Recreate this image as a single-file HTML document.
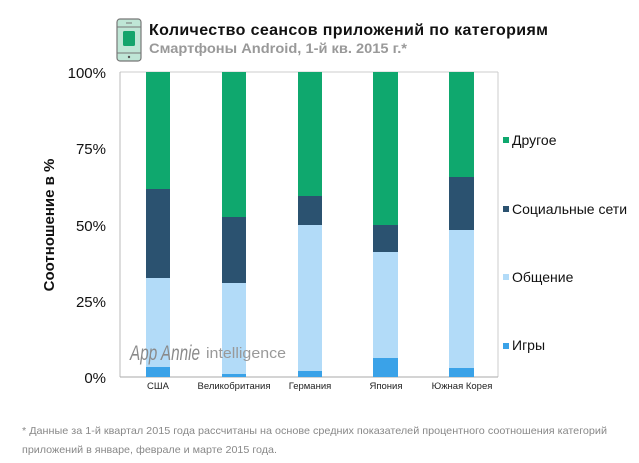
<!DOCTYPE html>
<html><head><meta charset="utf-8"><style>
html,body{margin:0;padding:0;background:#fff;width:639px;height:463px;overflow:hidden}
svg{display:block}
text{font-family:"Liberation Sans",sans-serif}
</style></head><body>
<svg width="639" height="463" viewBox="0 0 639 463">
<rect x="117" y="19" width="24" height="42" rx="3" fill="#bfe6d6" stroke="#777" stroke-width="1.2"/>
<line x1="117" y1="27" x2="141" y2="27" stroke="#777" stroke-width="1"/>
<line x1="117" y1="53" x2="141" y2="53" stroke="#777" stroke-width="1"/>
<rect x="123" y="31" width="12" height="15" rx="1.5" fill="#14a46c"/>
<circle cx="129" cy="57" r="1.2" fill="#555"/>
<line x1="126" y1="23" x2="132" y2="23" stroke="#777"/>
<text x="149" y="35" font-size="16" font-weight="bold" fill="#111" textLength="399" lengthAdjust="spacing">Количество сеансов приложений по категориям</text>
<text x="149" y="53" font-size="14" font-weight="bold" fill="#999" textLength="258" lengthAdjust="spacingAndGlyphs">Смартфоны Android, 1-й кв. 2015 г.*</text>
<line x1="120" y1="72" x2="498" y2="72" stroke="#ccc"/>
<line x1="498" y1="72" x2="498" y2="377" stroke="#ccc"/>
<line x1="120" y1="72" x2="120" y2="377" stroke="#bbb"/>
<line x1="120" y1="377" x2="498" y2="377" stroke="#aaa"/>
<g font-size="15" fill="#111" text-anchor="end">
<text x="106" y="78">100%</text><text x="106" y="154">75%</text><text x="106" y="231">50%</text><text x="106" y="307">25%</text><text x="106" y="383">0%</text>
</g>
<text transform="translate(54,225) rotate(-90)" font-size="15" font-weight="bold" fill="#111" text-anchor="middle">Соотношение в %</text>
<g>
<rect x="146" y="72" width="24" height="117" fill="#0fa86e"/><rect x="146" y="189" width="24" height="89" fill="#2b5270"/><rect x="146" y="278" width="24" height="89" fill="#b2dbf8"/><rect x="146" y="367" width="24" height="10" fill="#3aa2e8"/>
<rect x="222" y="72" width="24" height="145" fill="#0fa86e"/><rect x="222" y="217" width="24" height="66" fill="#2b5270"/><rect x="222" y="283" width="24" height="91" fill="#b2dbf8"/><rect x="222" y="374" width="24" height="3" fill="#3aa2e8"/>
<rect x="298" y="72" width="24" height="124" fill="#0fa86e"/><rect x="298" y="196" width="24" height="29" fill="#2b5270"/><rect x="298" y="225" width="24" height="146" fill="#b2dbf8"/><rect x="298" y="371" width="24" height="6" fill="#3aa2e8"/>
<rect x="373" y="72" width="25" height="153" fill="#0fa86e"/><rect x="373" y="225" width="25" height="27" fill="#2b5270"/><rect x="373" y="252" width="25" height="106" fill="#b2dbf8"/><rect x="373" y="358" width="25" height="19" fill="#3aa2e8"/>
<rect x="449" y="72" width="25" height="105" fill="#0fa86e"/><rect x="449" y="177" width="25" height="53" fill="#2b5270"/><rect x="449" y="230" width="25" height="138" fill="#b2dbf8"/><rect x="449" y="368" width="25" height="9" fill="#3aa2e8"/>
</g>
<text x="130" y="360" font-size="21" font-style="italic" fill="#8a8a8a" font-family="Liberation Serif" textLength="70" lengthAdjust="spacingAndGlyphs">App Annie</text>
<text x="206" y="358" font-size="15" fill="#999" textLength="80" lengthAdjust="spacingAndGlyphs">intelligence</text>
<g font-size="9.5" fill="#222" text-anchor="middle">
<text x="158" y="389">США</text><text x="234" y="389">Великобритания</text><text x="310" y="389">Германия</text><text x="386" y="389">Япония</text><text x="462" y="389">Южная Корея</text>
</g>
<rect x="503" y="137" width="6" height="6" fill="#0fa86e"/><text x="512" y="145" font-size="14" fill="#111">Другое</text>
<rect x="503" y="206" width="6" height="6" fill="#2b5270"/><text x="512" y="214" font-size="14" fill="#111">Социальные сети</text>
<rect x="503" y="274" width="6" height="6" fill="#b2dbf8"/><text x="512" y="282" font-size="14" fill="#111">Общение</text>
<rect x="503" y="343" width="6" height="6" fill="#3aa2e8"/><text x="512" y="350" font-size="14" fill="#111">Игры</text>
<g font-size="10.5" fill="#888">
<text x="22" y="434" textLength="585" lengthAdjust="spacingAndGlyphs">* Данные за 1-й квартал 2015 года рассчитаны на основе средних показателей процентного соотношения категорий</text>
<text x="22" y="453" textLength="255" lengthAdjust="spacingAndGlyphs">приложений в январе, феврале и марте 2015 года.</text>
</g>
</svg>
</body></html>
